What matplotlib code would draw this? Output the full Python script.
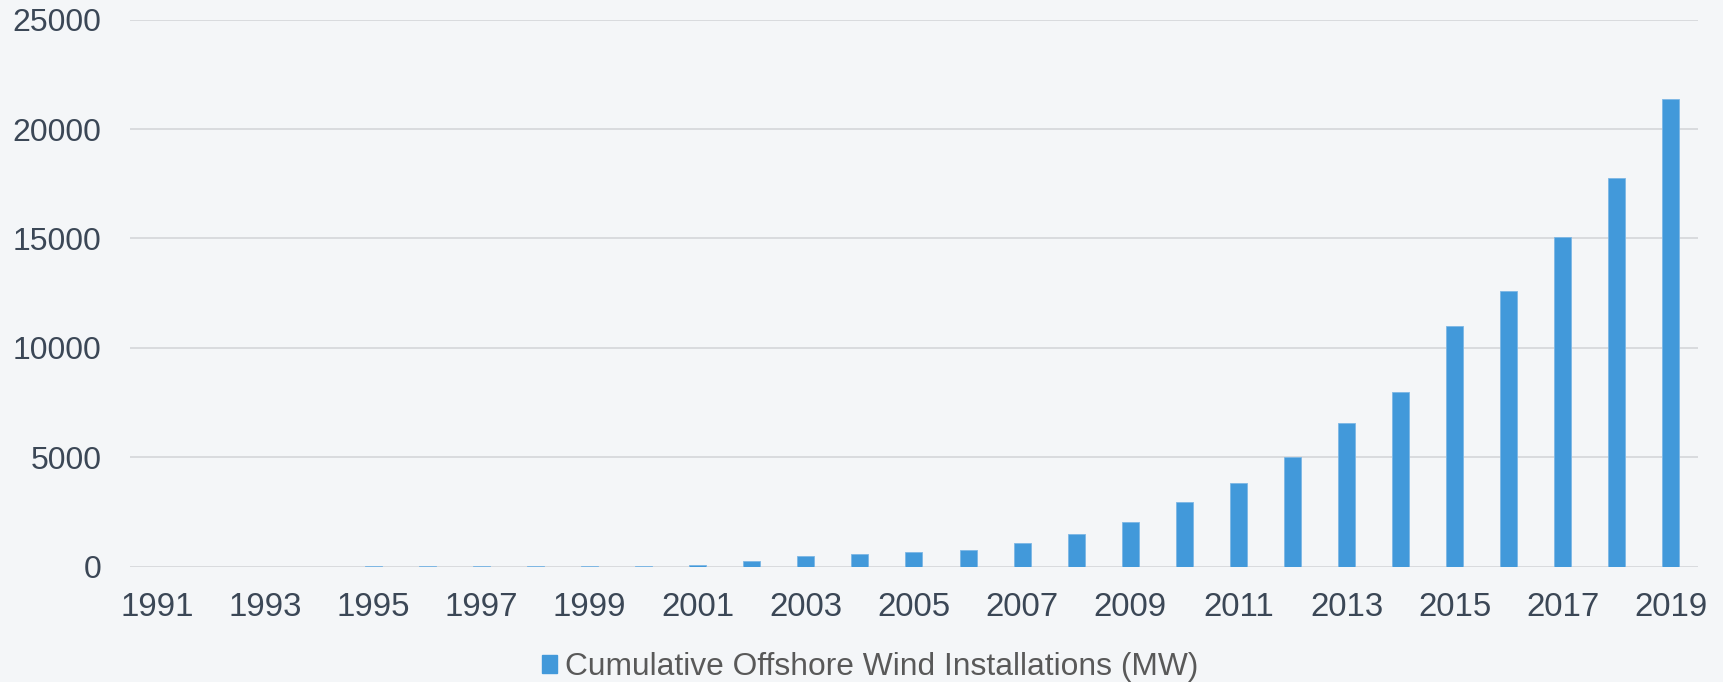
import matplotlib
matplotlib.use("Agg")
import matplotlib.pyplot as plt
import matplotlib.patches as mpatches

years = [str(y) for y in range(1991, 2020)]
cumulative_mw = [5, 5, 5, 10, 15, 20, 25, 30, 35, 40, 80, 250, 505, 605, 680,
                 770, 1085, 1480, 2045, 2950, 3820, 5000, 6550, 8000, 11010,
                 12615, 15060, 17745, 21350]
series_label = "Cumulative Offshore Wind Installations (MW)"
ytick_values = [0, 5000, 10000, 15000, 20000, 25000]

BG = "#F4F6F8"
BAR = "#4299DA"
GRID = "#D9DBDE"
TICK = "#3B4756"
LEG = "#595959"

plt.rcParams['font.family'] = ['Liberation Sans', 'DejaVu Sans']

fig = plt.figure(figsize=(17.23, 6.82), dpi=100, facecolor=BG)
ax = fig.add_axes([0.0754, 0.169, 0.9101, 0.8023])
ax.set_facecolor(BG)

x = list(range(len(years)))
ax.bar(x, cumulative_mw, width=0.314, color=BAR, edgecolor="#7DB7E5",
       linewidth=0.6, zorder=3)

ax.set_xlim(-0.5, len(years) - 0.5)
ax.set_ylim(0, 25000)
ax.set_yticks(ytick_values)
ax.set_yticklabels([str(v) for v in ytick_values])
ax.set_xticks(x[::2])
ax.set_xticklabels(years[::2])

ax.grid(axis='y', color=GRID, linewidth=1.4, zorder=0)
ax.grid(axis='x', visible=False)
for s in ax.spines.values():
    s.set_visible(False)
ax.tick_params(axis='both', length=0, colors=TICK)
ax.tick_params(axis='x', labelsize=23.8, pad=18.5)
ax.tick_params(axis='y', labelsize=23.0, pad=20.5)

handle = mpatches.Patch(facecolor=BAR, edgecolor=BAR, label=series_label)
leg = fig.legend(handles=[handle], loc='center', bbox_to_anchor=(0.505, 0.022),
                 frameon=False, fontsize=22.9, handlelength=0.5, handleheight=0.5,
                 handletextpad=0.25, borderaxespad=0, borderpad=0)
for t in leg.get_texts():
    t.set_color(LEG)

fig.savefig("out.png", dpi=100, facecolor=BG)
